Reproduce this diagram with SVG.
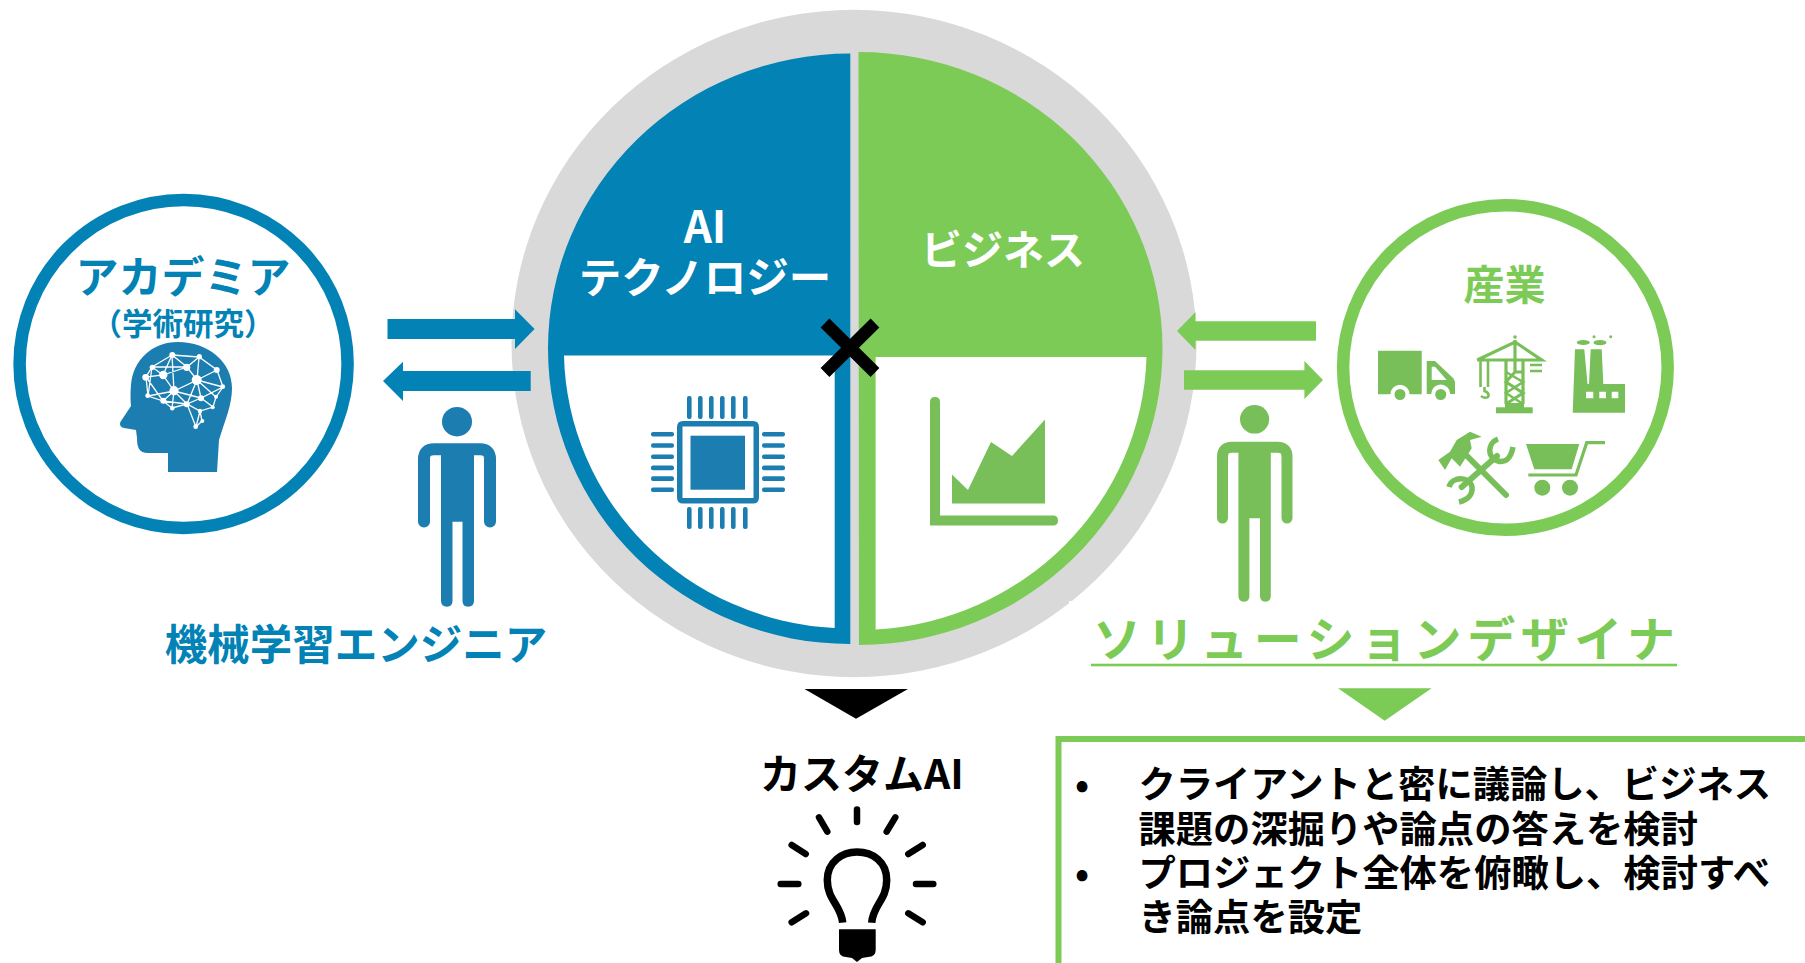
<svg xmlns="http://www.w3.org/2000/svg" width="1805" height="963" viewBox="0 0 1805 963">
<style>
text{font-family:"Noto Sans CJK JP","Noto Sans",sans-serif}
.b{fill:#0382B6}.g{fill:#7DCB57}.ib{fill:#1C7DB0}.ig{fill:#78BF5A}.w{fill:#fff}.k{fill:#000}
.m{font-weight:700}.h{font-weight:700}
.mid{text-anchor:middle}
.lk{stroke:#fff;stroke-width:1.3;fill:none}
.sg{stroke:#78BF5A;fill:none}
.ray{stroke:#000;stroke-width:6.5;stroke-linecap:round;fill:none}
</style>
<g id="core">
<ellipse cx="854" cy="343.5" rx="342.5" ry="333.7" fill="#D9D9D9"/>
<rect x="1069" y="601" width="40" height="40" fill="#fff"/>
</g>
<g id="tech">
<path class="b" d="M850.3,53.6A302,295 0 0 0 548,348.8A302,295 0 0 0 850.3,644Z"/>
<path class="w" d="M564,355.4H834.7V628A286,279 0 0 1 564,355.4Z"/>
<text class="w m mid" x="705" y="242.5" font-size="44">AI</text>
<text class="w m mid" x="705" y="293" font-size="42.5">テクノロジー</text>
<g class="ib">
<path fill-rule="evenodd" d="M683,421H753Q759,421 759,427V497.6Q759,503.6 753,503.6H683Q677,503.6 677,497.6V427Q677,421 683,421ZM682.5,426.5V498H753.5V426.5Z"/>
<rect x="690.5" y="435.7" width="54.5" height="54"/>
<rect x="687" y="396" width="4.6" height="23" rx="2"/><rect x="698" y="396" width="4.6" height="23" rx="2"/><rect x="709" y="396" width="4.6" height="23" rx="2"/><rect x="720" y="396" width="4.6" height="23" rx="2"/><rect x="731" y="396" width="4.6" height="23" rx="2"/><rect x="743" y="396" width="4.6" height="23" rx="2"/>
<rect x="687" y="507" width="4.6" height="22" rx="2"/><rect x="698" y="507" width="4.6" height="22" rx="2"/><rect x="709" y="507" width="4.6" height="22" rx="2"/><rect x="720" y="507" width="4.6" height="22" rx="2"/><rect x="731" y="507" width="4.6" height="22" rx="2"/><rect x="743" y="507" width="4.6" height="22" rx="2"/>
<rect x="651" y="432" width="23" height="4.6" rx="2"/><rect x="651" y="443.2" width="23" height="4.6" rx="2"/><rect x="651" y="454.4" width="23" height="4.6" rx="2"/><rect x="651" y="465.6" width="23" height="4.6" rx="2"/><rect x="651" y="476.3" width="23" height="4.6" rx="2"/><rect x="651" y="487.4" width="23" height="4.6" rx="2"/>
<rect x="762" y="432" width="23" height="4.6" rx="2"/><rect x="762" y="443.2" width="23" height="4.6" rx="2"/><rect x="762" y="454.4" width="23" height="4.6" rx="2"/><rect x="762" y="465.6" width="23" height="4.6" rx="2"/><rect x="762" y="476.3" width="23" height="4.6" rx="2"/><rect x="762" y="487.4" width="23" height="4.6" rx="2"/>
</g>
</g>
<g id="business">
<path class="g" d="M858.5,52A304,296.5 0 0 1 1162.5,348.5A304,296.5 0 0 1 859,645Z"/>
<path class="w" d="M875.6,357H1146.5A288,281 0 0 1 875.6,629.5Z"/>
<text class="w m mid" x="1003" y="265" font-size="41">ビジネス</text>
<g class="ig">
<path d="M930,402Q930,397 935,397Q940,397 940,402V515.6H1053Q1058,515.6 1058,520.5Q1058,525.5 1053,525.5H930Z"/>
<path d="M952,474.6L968,490L991,442L1012,456L1045,419.6V503.6H952Z"/>
</g>
</g>
<path id="cross" d="M825,323L875,372.5M875,323L825,372.5" stroke="#000" stroke-width="12.5" fill="none"/>
<g id="academia">
<circle cx="183.6" cy="364" r="164" fill="#fff" stroke="#0382B6" stroke-width="12.5"/>
<text class="b m mid" x="183" y="293" font-size="43">アカデミア</text>
<text class="b m mid" x="183" y="334.5" font-size="30.5">（学術研究）</text>
<path class="ib" d="M178,342C208,342 232,362 232,388C232,405 225,420 219,440L217,472H168V453H148C139,453 137,447 137,438L136,430L124,428C120,427 119,424 121,421L131,406C130,395 131,385 131,385C133,360 152,342 178,342Z"/>
<path class="lk" d="M172,355L199,357L217,370L223,387L216,397L213,407L200,411L187,404L172,408L163,401L148,396L146,377L152,367L172,355L163,375L146,377L163,401L174,391L163,375L187,367L172,355L174,391L197,380L187,367L199,357L197,380L217,370M199,357L187,367L152,367L163,375M197,380L223,387L201,398L197,380L187,404L174,391L148,396M197,380L216,397M201,398L187,404M201,398L213,407M174,391L172,408M163,401L187,404M200,411L196,427L202,421L200,411M187,404L196,427M152,367L148,396M172,355L187,367M174,391L201,398"/>
<g class="w"><circle cx="172.3" cy="355" r="3"/><circle cx="199.3" cy="356.7" r="2.6"/><circle cx="152.3" cy="367.3" r="2.6"/><circle cx="186.7" cy="367.3" r="3.6"/><circle cx="216.7" cy="370" r="3"/><circle cx="145.7" cy="377.3" r="3.4"/><circle cx="163.3" cy="375" r="4.2"/><circle cx="196.7" cy="380" r="5"/><circle cx="222.7" cy="386.7" r="2.4"/><circle cx="174" cy="390.7" r="4.6"/><circle cx="147.7" cy="395.7" r="2.4"/><circle cx="163.3" cy="400.7" r="3"/><circle cx="201" cy="398.3" r="3"/><circle cx="216" cy="396.7" r="2"/><circle cx="186.7" cy="404.3" r="3"/><circle cx="172.3" cy="408.3" r="2.2"/><circle cx="212.7" cy="407.3" r="2"/><circle cx="200" cy="411" r="2.2"/><circle cx="202.3" cy="421" r="2"/><circle cx="195.7" cy="426.7" r="2.4"/></g>
</g>
<g id="ml-engineer">
<ellipse class="ib" cx="457" cy="421.7" rx="15" ry="14.7"/>
<path d="M424,521.5V459Q424,449.3 434,449.3H480Q490,449.3 490,459V521.5" fill="none" stroke="#1C7DB0" stroke-width="12" stroke-linecap="round"/>
<path class="ib" d="M441,445H474V601Q474,606.7 468,606.7Q462.5,606.7 462.5,601V521.7H452.5V601Q452.5,606.7 447,606.7Q441,606.7 441,601Z"/>
<text class="b m mid" x="356" y="660" font-size="42.5">機械学習エンジニア</text>
</g>
<g id="industry">
<circle cx="1505.4" cy="367.5" r="162.3" fill="#fff" stroke="#7DCB57" stroke-width="12.5"/>
<text class="g m mid" x="1504.6" y="300" font-size="41">産業</text>
<g id="truck" class="ig">
<path d="M1378,350.7H1421.7V394.3H1409.5A9.5,9.5 0 0 0 1390.5,394.3H1378Z"/>
<path fill-rule="evenodd" d="M1426.7,361H1435L1453.3,378.3L1455,381.7V394H1450.2A9.5,9.5 0 0 0 1431.2,394H1426.7ZM1431.7,366.7V380H1446.7L1435,366.7Z"/>
<circle cx="1400" cy="394.5" r="5.5"/><circle cx="1440.7" cy="394.5" r="5.5"/>
</g>
<g id="crane">
<rect class="ig" x="1496" y="407.3" width="36.7" height="6"/>
<rect class="ig" x="1505" y="403" width="19" height="5"/>
<circle class="ig" cx="1515" cy="337" r="1.8"/>
<path class="sg" stroke-width="3.2" d="M1477.3,360L1515,342L1541.7,360ZM1506,360V404M1523,360V404M1515,340V372L1506,382L1523,393L1506,404M1523,372L1515,372"/>
<path class="sg" stroke-width="2.6" d="M1506,372L1523,382L1506,393L1523,404M1480.5,360V387M1488,360V387M1530,365H1542M1530,371H1542M1484.5,387V391Q1490,393 1488,397Q1485,399 1481,396"/>
</g>
<g id="factory" class="ig">
<path fill-rule="evenodd" d="M1575,349.3H1584.3L1587.5,384L1589,384L1590.7,349.3H1601.7L1603.3,384H1625V412.7H1572.7ZM1586,391.7V398.3H1593.3V391.7ZM1599.3,391.7V398.3H1606V391.7ZM1611.7,391.7V398.3H1618.3V391.7Z"/>
<ellipse cx="1583.3" cy="342.5" rx="6.5" ry="2.6"/><ellipse cx="1600" cy="342.7" rx="6.5" ry="2.6"/><circle cx="1594" cy="336.7" r="1.5"/><circle cx="1610.7" cy="336.7" r="1.5"/>
</g>
<g id="tools">
<path class="ig" d="M1438.3,460L1450,451.7L1456.7,440L1470,431.7L1481.7,436.7L1470,440L1471.7,448.3L1460,466.7L1451.7,458.3L1445,470Z"/>
<path class="sg" stroke-width="6" stroke-linecap="round" d="M1461,450L1506,495M1497,456L1461.7,487"/>
<path class="sg" stroke-width="5.5" d="M1498,439C1487,443 1487,458 1498,461C1506,463 1511,458 1513,447M1449,487C1452,476 1470,476 1472,487C1473,495 1467,500 1459,502"/>
</g>
<g id="cart">
<path class="ig" d="M1526,444H1579.3L1571.7,469.3H1534.3Z"/>
<path class="sg" stroke-width="3.2" d="M1605,442.7H1586.7L1576,475H1528.3"/>
<circle class="ig" cx="1542.3" cy="487.7" r="8"/><circle class="ig" cx="1570" cy="487.7" r="8"/>
</g>
</g>
<g id="solution-designer">
<ellipse class="ig" cx="1254.6" cy="419.3" rx="14.6" ry="14.3"/>
<path d="M1222.5,518V457Q1222.5,447.2 1232,447.2H1277.5Q1287,447.2 1287,457V518" fill="none" stroke="#78BF5A" stroke-width="11" stroke-linecap="round"/>
<path class="ig" d="M1238.4,445H1270.8V596Q1270.8,601.7 1265.4,601.7Q1260,601.7 1260,596V518.3H1249.4V596Q1249.4,601.7 1244,601.7Q1238.4,601.7 1238.4,596Z"/>
<text class="g m" x="1093" y="657" font-size="48" textLength="582" lengthAdjust="spacing">ソリューションデザイナ</text>
<rect class="g" x="1091" y="663.7" width="586" height="2.6"/>
</g>
<g id="connectors">
<polygon class="b" points="387.5,319 515,319 515,309.3 534.6,329 515,349 515,339 387.5,339"/>
<polygon class="b" points="530.7,371 403,371 403,361.7 383,381 403,401 403,391 530.7,391"/>
<polygon class="g" points="1316,321.3 1195.5,321.3 1195.5,312 1177,331 1195.5,350 1195.5,340.7 1316,340.7"/>
<polygon class="g" points="1184,370.3 1304.4,370.3 1304.4,361 1323,380 1304.4,399 1304.4,389.7 1184,389.7"/>
<polygon class="k" points="804.5,689 908,689 856,718.7"/>
<polygon class="g" points="1338,688.3 1431.6,688.3 1384.7,720.7"/>
</g>
<g id="custom-ai">
<text class="k h mid" x="862" y="789" font-size="41">カスタムAI</text>
<path class="ray" d="M857,809.5V822M819,817.3L827.3,831.7M895.3,817.3L886.7,831.7M791.7,845L805.7,854M922.7,845L908.3,854M780.7,884H798.3M916,884H933.3M791.7,922.3L806,913.3M922.7,922.3L908.3,913.3"/>
<path d="M842.7,922.7C841,905 827.3,900 827.3,880C827.3,862 842,852 857,852C873,852 886.7,862 886.7,880C886.7,900 873,905 871.7,922.7" fill="none" stroke="#000" stroke-width="7.5"/>
<path class="k" d="M839,929.3H875.7V950Q875.7,957 868,957L862,958L857,962L852,958L846,957Q839,957 839,950Z"/>
</g>
<g id="role-box">
<rect x="1058.5" y="739" width="800" height="300" fill="#fff" stroke="#7DCB57" stroke-width="6"/>
<g class="k m" font-size="37.3">
<text x="1075" y="798">•</text>
<text x="1138.5" y="798">クライアントと密に議論し、ビジネス</text>
<text x="1138.5" y="843">課題の深掘りや論点の答えを検討</text>
<text x="1075" y="887">•</text>
<text x="1138.5" y="887">プロジェクト全体を俯瞰し、検討すべ</text>
<text x="1138.5" y="931">き論点を設定</text>
</g>
</g>
</svg>
